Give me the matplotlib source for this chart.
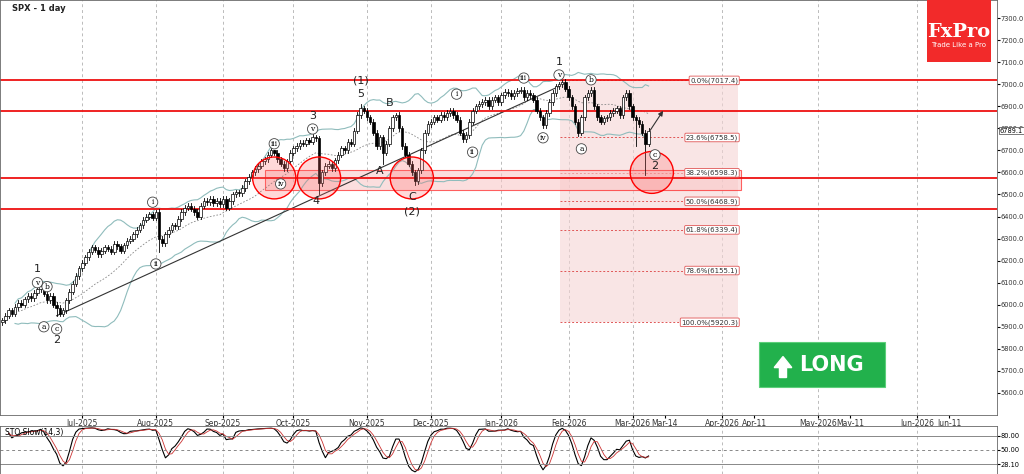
import numpy as np
import pandas as pd
import matplotlib
matplotlib.use('Agg')
import matplotlib.pyplot as plt
from matplotlib.patches import Rectangle, Ellipse, FancyArrow

# daily closes SPX, late May 2025 .. 10 Mar 2026
closes = [5930, 5950, 5975, 5960, 5990, 6010, 6000, 6025, 6040, 6030,
          6055, 6070, 6085, 6050, 6020, 6040, 6000, 5985, 5960, 5975,
          6020, 6060, 6095, 6130, 6165, 6190, 6215, 6240, 6260, 6250,
          6230, 6245, 6260, 6255, 6240, 6275, 6265, 6245, 6270, 6290,
          6300, 6320, 6340, 6360, 6385, 6400, 6410, 6395, 6420, 6300,
          6280, 6320, 6340, 6360, 6355, 6390, 6420, 6440, 6450, 6435,
          6420, 6400, 6450, 6470, 6465, 6480, 6460, 6470, 6455, 6480,
          6440, 6470, 6500, 6510, 6505, 6530, 6560, 6580, 6600, 6615,
          6630, 6650, 6660, 6680, 6700, 6690, 6660, 6640, 6620, 6650,
          6690, 6710, 6720, 6735, 6730, 6745, 6740, 6760, 6755, 6550,
          6600, 6630, 6640, 6620, 6655, 6680, 6710, 6700, 6740, 6730,
          6790, 6860, 6890, 6880, 6850, 6830, 6780, 6720, 6760, 6690,
          6730, 6800, 6850, 6860, 6800, 6720, 6680, 6640, 6600, 6560,
          6610, 6700, 6780, 6820, 6830, 6850, 6840, 6860, 6850, 6870,
          6880, 6860, 6840, 6780, 6750, 6770, 6830, 6880, 6900, 6910,
          6920, 6930, 6900, 6930, 6940, 6920, 6950, 6965, 6960, 6945,
          6960, 6970, 6975, 6940, 6960, 6950, 6930, 6880, 6850, 6815,
          6870, 6920, 6960, 6990, 7000, 7010, 6980, 6940, 6900, 6830,
          6780, 6850, 6940, 6960, 6975, 6900, 6850, 6830, 6845, 6850,
          6870, 6880, 6890, 6860, 6940, 6960, 6900, 6850, 6840, 6820,
          6780, 6730, 6789]
# notable wick extremes (bar -> price)
low_marks = {17: 5950, 49: 6240, 99: 6500, 119: 6640, 129: 6545, 144: 6740,
             169: 6800, 180: 6765, 198: 6720, 201: 6590}
high_marks = {48: 6430, 85: 6700, 97: 6775, 112: 6910, 123: 6870, 175: 7017}
wick = 12

tick_names = ['Jul-2025', 'Aug-2025', 'Sep-2025', 'Oct-2025', 'Nov-2025', 'Dec-2025',
              'Jan-2026', 'Feb-2026', 'Mar-2026', 'Mar-14', 'Apr-2026', 'Apr-11',
              'May-2026', 'May-11', 'Jun-2026', 'Jun-11']
tick_bars = [25, 48, 69, 91, 114, 134, 156, 177, 197, 207, 225, 235, 255, 265, 286, 296]
month_ticks = [n for n in tick_names if '-20' in n]

levels = [7017.4, 6880, 6575, 6435]
fib_pct = ['0.0', '23.6', '38.2', '50.0', '61.8', '78.6', '100.0']
fib_val = [7017.4, 6758.5, 6598.3, 6468.9, 6339.4, 6155.1, 5920.3]
circles = [(85, 6575), (99, 6575), (128, 6575), (203, 6600)]

waves = [(11, 6160, '1', 0), (11, 6100, 'v', 1), (14, 6082, 'b', 1), (13, 5900, 'a', 1),
         (17, 5890, 'c', 1), (17, 5840, '2', 0), (47, 6465, 'i', 1), (48, 6185, 'ii', 1),
         (85, 6730, 'iii', 1), (87, 6548, 'iv', 1), (97, 6855, '3', 0), (97, 6797, 'v', 1),
         (98, 6470, '4', 0), (112, 7015, '(1)', 0), (112, 6955, '5', 0), (121, 6915, 'B', 0),
         (118, 6605, 'A', 0), (128, 6490, 'C', 0), (128, 6425, '(2)', 0), (142, 6955, 'i', 1),
         (147, 6692, 'ii', 1), (163, 7028, 'iii', 1), (174, 7042, 'v', 1), (174, 7100, '1', 0),
         (184, 7020, 'b', 1), (169, 6757, 'iv', 1), (181, 6707, 'a', 1), (204, 6680, 'c', 1),
         (204, 6630, '2', 0)]

df = pd.DataFrame({'close': closes})
df['open'] = df['close'].shift(1).fillna(df['close'].iloc[0] - 10)
df['high'] = df[['open', 'close']].max(axis=1) + wick
df['low'] = df[['open', 'close']].min(axis=1) - wick
for k, v in low_marks.items():
    df.loc[k, 'low'] = v
for k, v in high_marks.items():
    df.loc[k, 'high'] = v
mid = df['close'].rolling(20, min_periods=5).mean()
sd = df['close'].rolling(20, min_periods=5).std()
k_raw = 100 * (df['close'] - df['low'].rolling(14, min_periods=3).min()) / \
    (df['high'].rolling(14, min_periods=3).max() - df['low'].rolling(14, min_periods=3).min())
k_slow = k_raw.rolling(3, min_periods=1).mean()
d_slow = k_slow.rolling(3, min_periods=1).mean()

plt.rcParams['font.family'] = ['DejaVu Sans']
fig = plt.figure(figsize=(10.24, 4.74), dpi=100)
ax = fig.add_axes([0.0, 0.1245, 0.974, 0.8755])
ax2 = fig.add_axes([0.0, 0.0, 0.974, 0.1013])
x0, x1 = -0.7, 311.0
ax.set_xlim(x0, x1)
ax.set_ylim(5500, 7382)
ax2.set_xlim(x0, x1)
ax2.set_ylim(0, 100)

for b, n in zip(tick_bars, tick_names):
    if n in month_ticks:
        ax.axvline(b, color='#bbbbbb', ls=(0, (3, 3)), lw=0.7, zorder=0)
        ax2.axvline(b, color='#bbbbbb', ls=(0, (3, 3)), lw=0.7, zorder=0)

# fib box
ax.add_patch(Rectangle((174.4, fib_val[-1]), 230 - 174.4, fib_val[0] - fib_val[-1],
                       facecolor='#f5d5d5', alpha=0.6, lw=0, zorder=0.5))
for p, v in zip(fib_pct, fib_val):
    ax.plot([174.4, 230], [v, v], color='#e05555', ls=(0, (2, 2)), lw=0.7, zorder=1)
    ax.text(230, v, f'{p}%({v:.1f})', ha='right', va='center', fontsize=5,
            color='#333333', bbox=dict(boxstyle='round,pad=0.15', fc='white', ec='#e05555', lw=0.6), zorder=6)

# support zone
ax.add_patch(Rectangle((82, 6521), 231 - 82, 90, facecolor='#f9c8c8', alpha=0.6,
                       edgecolor='red', lw=0.8, zorder=1))
for v in levels:
    ax.axhline(v, color='#ee1111', lw=1.3, zorder=2)

# bands
ax.plot(mid + 2 * sd, color='#8fbcbc', lw=0.8, zorder=1.5)
ax.plot(mid - 2 * sd, color='#8fbcbc', lw=0.8, zorder=1.5)
ax.plot(mid, color='#888888', lw=0.6, ls=(0, (2, 2)), zorder=1.5)
ax.plot([17, 174], [5950, 6990], color='#333333', lw=0.8, zorder=1.5)

# candles
for i, r in df.iterrows():
    up = r['close'] >= r['open']
    ax.plot([i, i], [r['low'], r['high']], color='black', lw=0.6, zorder=3)
    body = max(abs(r['close'] - r['open']), 2)
    ax.add_patch(Rectangle((i - 0.4, min(r['open'], r['close'])), 0.8, body,
                           facecolor='white' if up else 'black', edgecolor='black', lw=0.5, zorder=3.5))

for cx, cy in circles:
    ax.add_patch(Ellipse((cx, cy), 13.5, 190, facecolor=(1, 0.4, 0.4, 0.25), edgecolor='red', lw=1, zorder=4))

for b, p, t, c in waves:
    if c:
        ax.text(b, p, t, ha='center', va='center', fontsize=5.5, family='DejaVu Serif', zorder=7,
                bbox=dict(boxstyle='circle,pad=0.15', fc='white', ec='#444444', lw=0.6))
    else:
        ax.text(b, p, t, ha='center', va='center', fontsize=8, color='#222222', zorder=7)
ax.annotate('', xy=(207, 6890), xytext=(202, 6780),
            arrowprops=dict(arrowstyle='-|>', color='#333333', lw=0.8, mutation_scale=7), zorder=7)

ax.text(3, 7365, 'SPX - 1 day', fontsize=6, fontweight='bold', va='top', color='#222222')

# FxPro logo and LONG badge
ax.add_patch(Rectangle((289, 7100), 20, 282, facecolor='#f22a2a', lw=0, zorder=8))
ax.text(299, 7235, 'FxPro', ha='center', va='center', fontsize=14, color='white',
        family='DejaVu Serif', fontweight='bold', zorder=9)
ax.text(299, 7180, 'Trade Like a Pro', ha='center', va='center', fontsize=5, color='white', zorder=9)
ax.add_patch(Rectangle((236.5, 5625), 39.5, 205, facecolor='#22b14c', edgecolor='#5ccf7a', lw=0.8, zorder=8))
ax.add_patch(FancyArrow(244, 5670, 0, 95, width=2.2, head_width=5.5, head_length=50,
                        length_includes_head=True, color='white', zorder=9))
ax.text(259, 5728, 'LONG', ha='center', va='center', fontsize=15, fontweight='bold', color='white', zorder=9)

ax.yaxis.tick_right()
ax.set_yticks(range(5600, 7301, 100))
ax.set_yticklabels([f'{v:.1f}' for v in range(5600, 7301, 100)], fontsize=4.8, color='#333333')
ax.tick_params(axis='y', length=2, pad=0.5)
ax.text(x1 + 0.8, 6789.1, '6789.1', transform=ax.transData, fontsize=4.8, va='center', clip_on=False,
        bbox=dict(boxstyle='square,pad=0.1', fc='white', ec='#444444', lw=0.5))
ax.set_xticks(tick_bars)
ax.set_xticklabels(tick_names, fontsize=5.5, color='#333333')
ax.tick_params(axis='x', length=2, pad=1)

# stochastic
ax2.plot(k_slow, color='black', lw=0.8)
ax2.plot(d_slow, color='#cc3333', lw=0.6)
for v, st in [(80, '-'), (50, (0, (3, 3))), (20, '-')]:
    ax2.axhline(v, color='#888888', lw=0.7, ls=st)
ax2.text(1, 96, 'STO Slow(14,3)', fontsize=5.5, va='top')
ax2.yaxis.tick_right()
ax2.set_yticks([80, 50, 20])
ax2.set_yticklabels(['80.00', '50.00', '28.10'], fontsize=4.8)
ax2.tick_params(axis='y', length=2, pad=0.5)
ax2.set_xticks([])
for a in (ax, ax2):
    for s in a.spines.values():
        s.set_color('#666666')
        s.set_linewidth(0.6)

fig.savefig('out.png', dpi=100)
